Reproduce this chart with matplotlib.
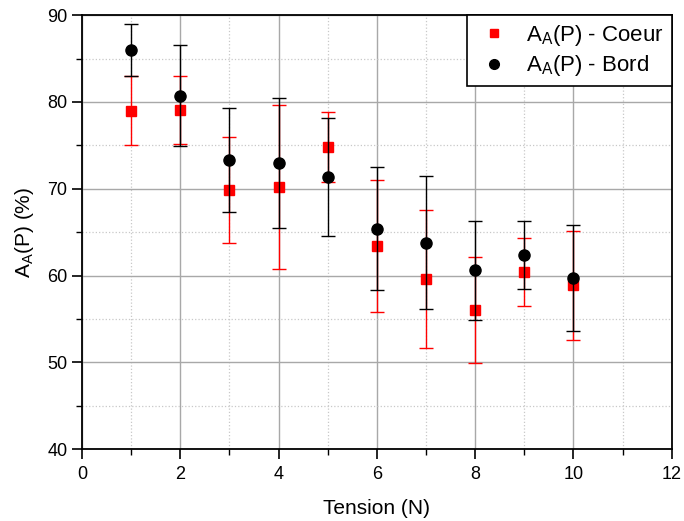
import matplotlib
matplotlib.use("Agg")
import matplotlib.pyplot as plt
from matplotlib.ticker import MultipleLocator
from matplotlib.lines import Line2D

plt.rcParams['font.family'] = ['Liberation Sans', 'DejaVu Sans']
plt.rcParams['mathtext.fontset'] = 'custom'
plt.rcParams['mathtext.rm'] = 'Liberation Sans'
plt.rcParams['mathtext.it'] = 'Liberation Sans'

tension = [1, 2, 3, 4, 5, 6, 7, 8, 9, 10]
coeur = [79.0, 79.1, 69.8, 70.2, 74.8, 63.4, 59.6, 56.05, 60.4, 58.85]
coeur_err = [4.0, 3.9, 6.1, 9.4, 4.0, 7.6, 8.0, 6.1, 3.9, 6.3]
bord = [86.0, 80.7, 73.3, 73.0, 71.3, 65.4, 63.8, 60.6, 62.35, 59.7]
bord_err = [3.0, 5.8, 6.0, 7.5, 6.8, 7.1, 7.7, 5.7, 3.9, 6.1]
labels = [r'A$_\mathrm{A}$(P) - Coeur', r'A$_\mathrm{A}$(P) - Bord']

fig = plt.figure(figsize=(6.84, 5.21), dpi=100)
ax = fig.add_axes([0.12, 0.138, 0.862, 0.833])

ax.errorbar(tension, coeur, yerr=coeur_err, fmt='s', color='red', ecolor='red',
            markersize=7, capsize=5, elinewidth=1.0, capthick=1.0, zorder=3)
ax.errorbar(tension, bord, yerr=bord_err, fmt='o', color='black', ecolor='black',
            markersize=8, capsize=5, elinewidth=1.0, capthick=1.0, zorder=4)

ax.set_xlim(0, 12)
ax.set_ylim(40, 90)
ax.xaxis.set_major_locator(MultipleLocator(2))
ax.xaxis.set_minor_locator(MultipleLocator(1))
ax.yaxis.set_major_locator(MultipleLocator(10))
ax.yaxis.set_minor_locator(MultipleLocator(5))

ax.grid(which='major', color='#a8a8a8', linestyle='-', linewidth=1.0, zorder=0)
ax.grid(which='minor', color='#c8c8c8', linestyle=':', linewidth=0.9, zorder=0)
ax.set_axisbelow(True)

ax.tick_params(which='major', direction='out', length=7, width=1.2, labelsize=13,
               top=False, right=False)
ax.tick_params(axis='x', which='major', pad=5)
ax.tick_params(which='minor', direction='out', length=4, width=1.0,
               top=False, right=False)
for s in ax.spines.values():
    s.set_linewidth(1.3)

ax.set_xlabel('Tension (N)', fontsize=15, labelpad=12)
ax.set_ylabel(r'A$_\mathrm{A}$(P) (%)', fontsize=15, labelpad=8)

handles = [Line2D([], [], linestyle='none', marker='s', color='red', markersize=6),
           Line2D([], [], linestyle='none', marker='o', color='black', markersize=7)]
leg = ax.legend(handles, labels, loc='upper right', fontsize=16, frameon=True,
                fancybox=False, edgecolor='black', framealpha=1, borderaxespad=0,
                handletextpad=0.6, handlelength=1.7, borderpad=0.35, labelspacing=0.25)
leg.get_frame().set_linewidth(1.2)

fig.savefig('out.png', dpi=100)
